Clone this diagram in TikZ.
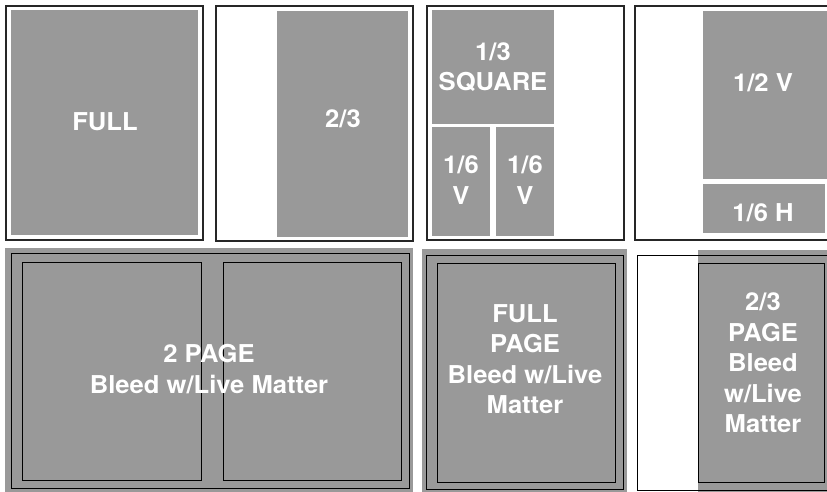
\documentclass[tikz,border=0pt]{standalone}
\usepackage{fontspec}
\setmainfont{TeX Gyre Heros}[FakeStretch=1.04]
\definecolor{adgray}{RGB}{153,153,153}
\tikzset{
  frame/.style={draw=black!85, line width=1.2pt},
  thin/.style={draw=black, line width=0.9pt},
  adfill/.style={fill=adgray},
  lbl/.style={text=white, font=\fontsize{24.6}{30.5}\selectfont\bfseries, align=center, inner sep=0pt},
}
\begin{document}
\begin{tikzpicture}[x=1pt,y=-1pt]
\useasboundingbox (0,0) rectangle (827,491);
\clip (0,0) rectangle (827,491);
% ---------- top row ----------
% FULL
\draw[frame] (6,6) rectangle (203,240);
\fill[adfill] (11,10) rectangle (198,235);
\node[lbl] (full) at (105,122) {FULL};
% 2/3
\draw[frame] (216,6) rectangle (413,241);
\fill[adfill] (277,11) rectangle (408,237);
\node[lbl] (twothirds) at (343,119) {2/3};
% 1/3 square + 1/6 V
\draw[frame] (427,6) rectangle (624,240);
\fill[adfill] (432,10) rectangle (554,124);
\fill[adfill] (432,127) rectangle (490,236);
\fill[adfill] (496,127) rectangle (554,236);
\node[lbl] (third) at (493,67) {1/3\\SQUARE};
\node[lbl] (sixa) at (461,180) {1/6\\V};
\node[lbl] (sixb) at (525,180) {1/6\\V};
% 1/2 V + 1/6 H
\draw[frame] (635,6) rectangle (840,240);
\fill[adfill] (703,11) rectangle (840,179);
\fill[adfill] (703,184) rectangle (825,233);
\node[lbl] (half) at (763,83) {1/2 V};
\node[lbl] (sixh) at (763,213) {1/6 H};
% ---------- bottom row ----------
% 2 page bleed
\fill[adfill] (5,248) rectangle (413,495);
\draw[thin] (11,253) rectangle (409,488);
\draw[thin] (22,262) rectangle (201,480);
\draw[thin] (223,262) rectangle (401,480);
\node[lbl] (twopage) at (209,369) {2 PAGE\\Bleed w/Live Matter};
% full page bleed
\fill[adfill] (422,249) rectangle (627,495);
\draw[thin] (426,255) rectangle (623,489);
\draw[thin] (437,263) rectangle (615,482);
\node[lbl] (fullpage) at (525,359) {FULL\\PAGE\\Bleed w/Live\\Matter};
% 2/3 page bleed
\fill[adfill] (698,250) rectangle (840,495);
\draw[thin] (637,255) rectangle (840,490);
\draw[thin] (698,263) rectangle (824,482);
\node[lbl] (twothirdspage) at (763,363) {2/3\\PAGE\\Bleed\\w/Live\\Matter};
\end{tikzpicture}
\end{document}
